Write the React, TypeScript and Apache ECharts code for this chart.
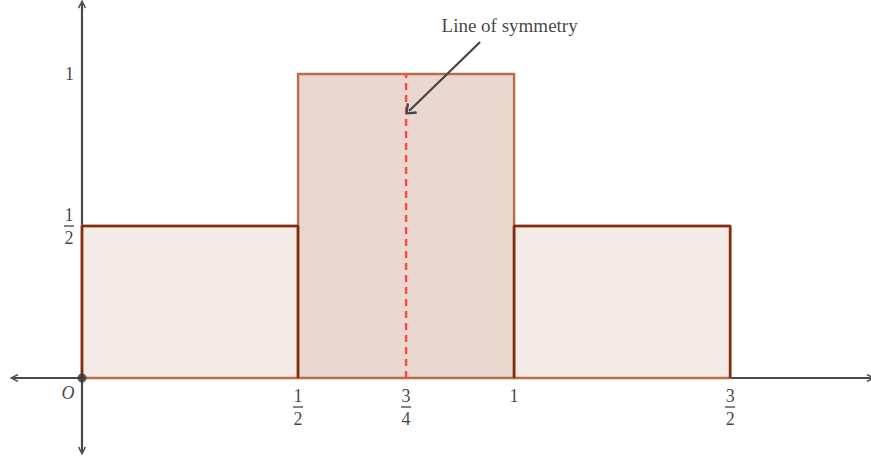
import React, { useEffect, useRef } from "react";
import * as echarts from "echarts";

// Bars of the step function
const binStarts = [0, 0.5, 1];
const binEnds = [0.5, 1, 1.5];
const heights = [0.5, 1, 0.5];
const barFills = ["#f4ebe6", "#ead8d0", "#f4ebe6"];

// dark outline of the outer steps
const leftStep = [[0, 0], [0, 0.5], [0.5, 0.5], [0.5, 0]];
const rightStep = [[1, 0], [1, 0.5], [1.5, 0.5], [1.5, 0]];

// symmetry line
const symmetryX = 0.75;
const symmetryTop = 1;

// tick labels
const xTickValues = [0.5, 0.75, 1, 1.5];
const xTickLabels = ["{n|1}\n{b|}\n{n|2}", "{n|3}\n{b|}\n{n|4}", "{n|1}", "{n|3}\n{b|}\n{n|2}"];
const yTickValues = [0.5, 1];
const yTickLabels = ["{n|1}\n{b|}\n{n|2}", "{n|1}"];

// annotation
const annotationText = "Line of symmetry";
const annotationTextAt = [0.9896, 1.1612];
const arrowFrom = [0.9213, 1.1053];
const arrowTo = [0.7569, 0.8783];

const FONT = "'Liberation Serif', 'DejaVu Serif', serif";
const TEXT = "#111111";
const AXIS_COLOR = "#4a4a4a";
const CHEVRON = "path://M0,10 L5,0 L10,10 L8.4,11.2 L5,3.6 L1.6,11.2 Z";

const rich = {
  n: { fontFamily: FONT, fontSize: 18, lineHeight: 19, color: TEXT, align: "center" },
  b: { width: 10, height: 1.3, lineHeight: 4, backgroundColor: TEXT, align: "center" },
};

export default function App() {
  const ref = useRef<HTMLDivElement>(null);
  useEffect(() => {
    document.body.style.margin = "0";
    const chart = echarts.init(ref.current!, undefined, { renderer: "svg" });
    const axisCommon = {
      type: "value",
      splitLine: { show: false },
      axisTick: { show: false },
      axisLabel: { show: false },
      axisLine: {
        show: true,
        onZero: true,
        symbol: [CHEVRON, CHEVRON],
        symbolSize: [14, 9],
        lineStyle: { color: AXIS_COLOR, width: 2.2 },
      },
    };
    chart.setOption({
      animation: false,
      backgroundColor: "#ffffff",
      grid: { left: 14, right: 0, top: 4, bottom: 8, containLabel: false, outerBoundsMode: "none" },
      xAxis: { ...axisCommon, min: -0.1574, max: 1.826 },
      yAxis: { ...axisCommon, min: -0.2401, max: 1.2303 },
      series: [
        {
          type: "custom",
          z: 1,
          data: binStarts.map((s, i) => [s, binEnds[i], heights[i], i]),
          encode: { x: [0, 1], y: 2 },
          renderItem: (params: any, api: any) => {
            const p0 = api.coord([api.value(0), 0]);
            const p1 = api.coord([api.value(1), api.value(2)]);
            const idx = api.value(3);
            return {
              type: "rect",
              shape: { x: p0[0], y: p1[1], width: p1[0] - p0[0], height: p0[1] - p1[1] },
              style: { fill: barFills[idx], stroke: "#bb6d4a", lineWidth: 2.4 },
            };
          },
        },
        {
          type: "line",
          z: 3,
          data: leftStep,
          symbol: "none",
          lineStyle: { color: "#7f2f10", width: 2.6 },
        },
        {
          type: "line",
          z: 3,
          data: rightStep,
          symbol: "none",
          lineStyle: { color: "#7f2f10", width: 2.6 },
        },
        {
          type: "line",
          z: 4,
          data: [[symmetryX, 0], [symmetryX, symmetryTop]],
          symbol: "none",
          lineStyle: { color: "#ff4545", width: 2.4, type: [7, 5] },
        },
        {
          type: "scatter",
          z: 6,
          silent: true,
          symbolSize: 0,
          data: xTickValues.map((v) => [v, 0]),
          label: {
            show: true,
            position: "bottom",
            distance: 8,
            color: TEXT,
            formatter: (p: any) => xTickLabels[p.dataIndex],
            rich,
          },
        },
        {
          type: "scatter",
          z: 6,
          silent: true,
          symbolSize: 0,
          data: yTickValues.map((v) => [0, v]),
          label: {
            show: true,
            position: "left",
            distance: 8,
            color: TEXT,
            formatter: (p: any) => yTickLabels[p.dataIndex],
            rich,
          },
        },
        {
          type: "scatter",
          z: 5,
          data: [[0, 0]],
          symbolSize: 9,
          itemStyle: { color: "#333333" },
          label: {
            show: true,
            formatter: "O",
            position: "left",
            offset: [0, 15],
            distance: 3,
            fontFamily: FONT,
            fontStyle: "italic",
            fontSize: 18,
            color: TEXT,
          },
        },
        {
          type: "scatter",
          z: 5,
          data: [annotationTextAt],
          symbolSize: 0,
          label: {
            show: true,
            formatter: annotationText,
            position: "inside",
            fontFamily: FONT,
            fontSize: 19,
            color: TEXT,
          },
          markLine: {
            silent: true,
            animation: false,
            symbol: ["none", CHEVRON],
            symbolSize: [15, 10],
            label: { show: false },
            lineStyle: { color: "#444444", width: 2.2, type: "solid" },
            data: [[{ coord: arrowFrom }, { coord: arrowTo }]],
          },
        },
      ],
    });
    return () => chart.dispose();
  }, []);
  return <div ref={ref} style={{ width: 871, height: 459 }} />;
}
